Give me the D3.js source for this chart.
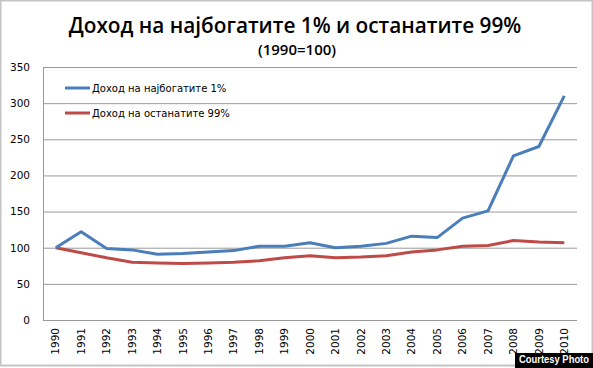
<!DOCTYPE html>
<html><head><meta charset="utf-8">
<script src="https://cdn.jsdelivr.net/npm/d3@7"></script>
<style>body{margin:0;background:#fff}svg{display:block}</style>
</head><body>
<script>
const years = ["1990","1991","1992","1993","1994","1995","1996","1997","1998","1999","2000","2001","2002","2003","2004","2005","2006","2007","2008","2009","2010"];
const top1 = [100,122,99,97,91,92,94,96,102,102,107,100,102,106,116,114,141,151,227,240,310];
const rest99 = [100,93,86,80,79,78,79,80,82,86,89,86,87,89,94,97,102,103,110,108,107];
const yTicks = [0,50,100,150,200,250,300,350];
const seriesNames = ["Доход на најбогатите 1%","Доход на останатите 99%"];
const colors = ["#4a7ebb","#be4b48"];

const W=593,H=368;
const svg=d3.select("body").append("svg").attr("width",W).attr("height",H);
svg.append("rect").attr("x",0.5).attr("y",0.5).attr("width",W-1).attr("height",H-3).attr("fill","#fff").attr("stroke","#c4c4c4").attr("stroke-width",2);

const L=43,R=577,T=67,B=320;
const x=d3.scaleBand().domain(years).range([L,R]);
const y=d3.scaleLinear().domain([0,350]).range([B,T]);

svg.append("text").attr("x",295).attr("y",33).attr("text-anchor","middle")
  .attr("font-family","Open Sans").attr("font-weight","600").attr("font-size",20.8).attr("fill","#000")
  .text("Доход на најбогатите 1% и останатите 99%");
svg.append("text").attr("x",297).attr("y",55).attr("text-anchor","middle")
  .attr("font-family","Open Sans").attr("font-weight","600").attr("font-size",15).attr("fill","#000")
  .text("(1990=100)");

const gy=svg.append("g").attr("transform",`translate(${L},0)`)
  .call(d3.axisLeft(y).tickValues(yTicks).tickSize(-(R-L)).tickPadding(13));
gy.select(".domain").remove();
gy.selectAll(".tick line").attr("stroke","#9a9a9a").attr("stroke-width",1);
gy.selectAll(".tick text").attr("font-family","DejaVu Sans").attr("font-size",10.5).attr("fill","#000");
svg.append("line").attr("x1",L+0.5).attr("x2",L+0.5).attr("y1",T).attr("y2",B).attr("stroke","#9a9a9a");

const gx=svg.append("g").attr("transform",`translate(0,${B})`)
  .call(d3.axisBottom(x).tickSize(0).tickPadding(0));
gx.select(".domain").remove();
gx.selectAll(".tick text").attr("font-family","DejaVu Sans").attr("font-size",10.5).attr("fill","#000")
  .attr("transform","rotate(-90)").attr("text-anchor","end").attr("dx","-8").attr("dy","0.35em").attr("x",0).attr("y",0);

const line=d3.line().x((d,i)=>x(years[i])+x.bandwidth()/2).y(d=>y(d));
[rest99, top1].forEach((s,k)=>{
  svg.append("path").datum(s).attr("d",line).attr("fill","none")
    .attr("stroke",k===0?colors[1]:colors[0]).attr("stroke-width",3).attr("stroke-linejoin","round");
});

seriesNames.forEach((n,i)=>{
  const ly=88+i*25;
  svg.append("line").attr("x1",65).attr("x2",90).attr("y1",ly).attr("y2",ly).attr("stroke",colors[i]).attr("stroke-width",3);
  svg.append("text").attr("x",92).attr("y",ly+4).attr("font-family","DejaVu Sans").attr("font-size",10).attr("fill","#000").text(n);
});

const cb=svg.append("g");
cb.append("rect").attr("x",515).attr("y",353).attr("width",78).attr("height",15).attr("fill","#000");
cb.append("text").attr("x",519).attr("y",363).attr("font-family","Liberation Sans").attr("font-weight","bold").attr("font-size",10)
  .attr("textLength",70).attr("lengthAdjust","spacingAndGlyphs").attr("fill","#fff").text("Courtesy Photo");
</script>
</body></html>
